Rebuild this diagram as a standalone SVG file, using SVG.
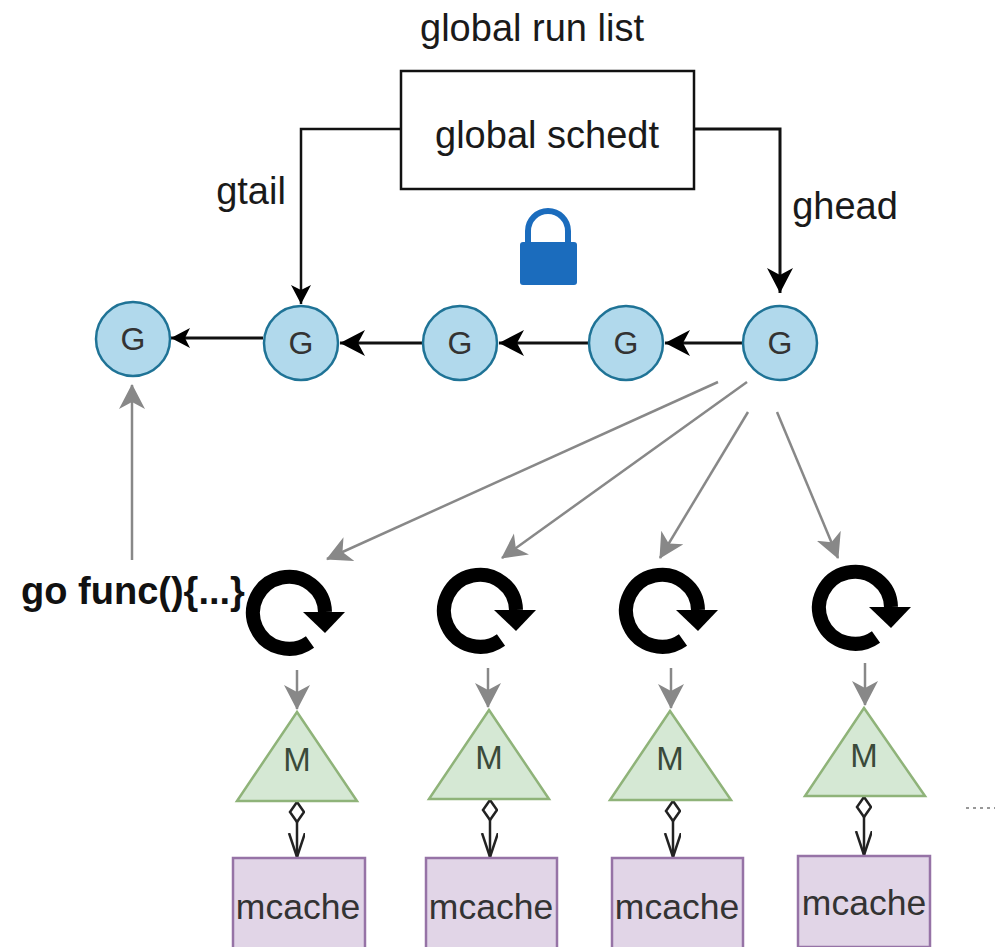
<svg xmlns="http://www.w3.org/2000/svg" width="995" height="947" viewBox="0 0 995 947">
<style>
text{font-family:"Liberation Sans",Arial,sans-serif;text-anchor:middle}
.lbl{font-size:38px;fill:#1a1a1a}
.g{fill:#b1d9ec;stroke:#1f7396;stroke-width:2.5}
.gt{font-size:32px;fill:#333}
.m{fill:#d5e8d4;stroke:#8fb379;stroke-width:2.5}
.mt{font-size:33px;fill:#3a4a3a}
.c{fill:#e1d5e7;stroke:#9673a6;stroke-width:2.5}
.ct{font-size:35.5px;fill:#333}
.bk{fill:none;stroke:#111;stroke-width:3}
.gr{fill:none;stroke:#888;stroke-width:2.5}
.own{fill:none;stroke:#222;stroke-width:2.5}
</style>
<defs>
<marker id="ab" markerUnits="userSpaceOnUse" markerWidth="30" markerHeight="30" refX="25" refY="13" orient="auto"><path d="M0 0L25 13L0 26L7 13Z" fill="#000"/></marker>
<marker id="as" markerUnits="userSpaceOnUse" markerWidth="30" markerHeight="30" refX="19" refY="10" orient="auto"><path d="M0 0L19 10L0 20L5 10Z" fill="#000"/></marker>
<marker id="ag" markerUnits="userSpaceOnUse" markerWidth="30" markerHeight="30" refX="24" refY="13" orient="auto"><path d="M0 0L25 13L0 26L7 13Z" fill="#888"/></marker>
<marker id="ao" markerUnits="userSpaceOnUse" markerWidth="30" markerHeight="30" refX="24" refY="8" orient="auto"><path d="M0 0L24 8L0 16" fill="none" stroke="#222" stroke-width="2.5"/></marker>
<marker id="dm" markerUnits="userSpaceOnUse" markerWidth="30" markerHeight="20" refX="1" refY="8" orient="auto"><path d="M1 8L11 1L21 8L11 15Z" fill="#fff" stroke="#222" stroke-width="2.500"/></marker>
<g id="spin"><path d="M310 642A36 36 0 1 1 325 612" fill="none" stroke="#000" stroke-width="14"/><path d="M303 612L345 612L325 633Z" fill="#000"/></g>
</defs>
<g id="connectors">
<path class="bk" d="M401 129H301V304" marker-end="url(#as)" style="stroke-width:2.500"/>
<path class="bk" d="M694 129H780V293" marker-end="url(#ab)"/>
<path class="bk" d="M742 343H665" marker-end="url(#ab)"/>
<path class="bk" d="M588 343H499" marker-end="url(#ab)"/>
<path class="bk" d="M422 343H340" marker-end="url(#ab)"/>
<path class="bk" d="M263 338H171" marker-end="url(#as)"/>
<path class="gr" d="M132 560V385" marker-end="url(#ag)"/>
<path class="gr" d="M718 382L327 559" marker-end="url(#ag)"/>
<path class="gr" d="M747 382L502 558" marker-end="url(#ag)"/>
<path class="gr" d="M748 412L660 558" marker-end="url(#ag)"/>
<path class="gr" d="M777 412L838 558" marker-end="url(#ag)"/>
<path class="gr" d="M297 670V709" marker-end="url(#ag)"/>
<path class="gr" d="M488 668V707" marker-end="url(#ag)"/>
<path class="gr" d="M671 668V708" marker-end="url(#ag)"/>
<path class="gr" d="M865 663V705" marker-end="url(#ag)"/>
<path class="own" d="M297 802V857" marker-start="url(#dm)" marker-end="url(#ao)"/>
<path class="own" d="M490 800V857" marker-start="url(#dm)" marker-end="url(#ao)"/>
<path class="own" d="M673 801V857" marker-start="url(#dm)" marker-end="url(#ao)"/>
<path class="own" d="M864 797V855" marker-start="url(#dm)" marker-end="url(#ao)"/>
<path d="M966 808H995" fill="none" stroke="#777" stroke-width="1.500" stroke-dasharray="3 4"/>
</g>
<g id="title"><text class="lbl" x="532" y="41">global run list</text></g>
<g id="sched"><rect x="401" y="71" width="293" height="118" fill="#fff" stroke="#111" stroke-width="2.500"/><text class="lbl" x="547" y="148">global schedt</text></g>
<g id="label-gtail"><text class="lbl" x="251" y="204">gtail</text></g>
<g id="label-ghead"><text class="lbl" x="845" y="219">ghead</text></g>
<g id="lock"><path d="M528 246V231A20 20 0 0 1 568 231V246" fill="none" stroke="#1b6cbd" stroke-width="6"/><rect x="520" y="242" width="57" height="43" rx="3" fill="#1b6cbd"/></g>
<g id="g1"><circle class="g" cx="133" cy="339" r="37"/><text class="gt" x="133" y="350">G</text></g>
<g id="g2"><circle class="g" cx="301" cy="343" r="37"/><text class="gt" x="301" y="354">G</text></g>
<g id="g3"><circle class="g" cx="460" cy="343" r="37"/><text class="gt" x="460" y="354">G</text></g>
<g id="g4"><circle class="g" cx="626" cy="343" r="37"/><text class="gt" x="626" y="354">G</text></g>
<g id="g5"><circle class="g" cx="780" cy="343" r="37"/><text class="gt" x="780" y="354">G</text></g>
<g id="p1"><use href="#spin"/></g>
<g id="p2"><use href="#spin" x="191" y="-2"/></g>
<g id="p3"><use href="#spin" x="373" y="-2"/></g>
<g id="p4"><use href="#spin" x="566" y="-5"/></g>
<g id="go"><text x="133" y="604" style="font-size:38px;font-weight:bold;fill:#111">go func(){...}</text></g>
<g id="m1"><path class="m" d="M297 712L357 801H237Z"/><text class="mt" x="297" y="771">M</text></g>
<g id="m2"><path class="m" d="M489 710L549 799H429Z"/><text class="mt" x="489" y="769">M</text></g>
<g id="m3"><path class="m" d="M670 711L731 800H610Z"/><text class="mt" x="670" y="770">M</text></g>
<g id="m4"><path class="m" d="M864 708L925 796H805Z"/><text class="mt" x="864" y="767">M</text></g>
<g id="c1"><rect class="c" x="233" y="858" width="132" height="92"/><text class="ct" x="298" y="919">mcache</text></g>
<g id="c2"><rect class="c" x="426" y="858" width="131" height="92"/><text class="ct" x="491" y="919">mcache</text></g>
<g id="c3"><rect class="c" x="612" y="858" width="131" height="92"/><text class="ct" x="677" y="919">mcache</text></g>
<g id="c4"><rect class="c" x="798" y="856" width="132" height="91"/><text class="ct" x="864" y="915">mcache</text></g>
</svg>
